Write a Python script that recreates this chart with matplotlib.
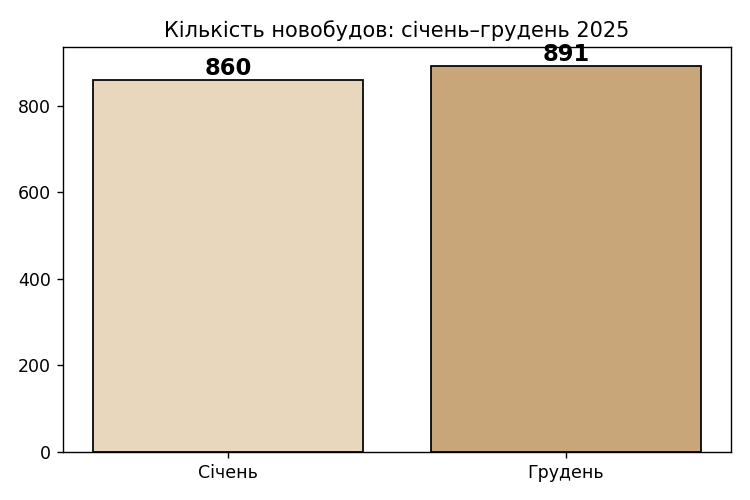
import matplotlib
matplotlib.use("Agg")
from matplotlib import pyplot as plt

months = ["Січень", "Грудень"]
counts = [860, 891]
colors = ["#E8D7BD", "#C8A679"]

fig = plt.figure(figsize=(6, 4), dpi=125)
ax = fig.add_axes([0.084, 0.096, 0.891, 0.81])

bars = ax.bar(months, counts, width=0.8, color=colors, edgecolor="black", linewidth=1)
for b, v in zip(bars, counts):
    ax.text(b.get_x() + b.get_width() / 2, v, str(v), ha="center", va="bottom",
            fontsize=13, fontweight="bold")

ax.set_title("Кількість новобудов: січень–грудень 2025", fontsize=12)

fig.savefig("out.png", dpi=125)
